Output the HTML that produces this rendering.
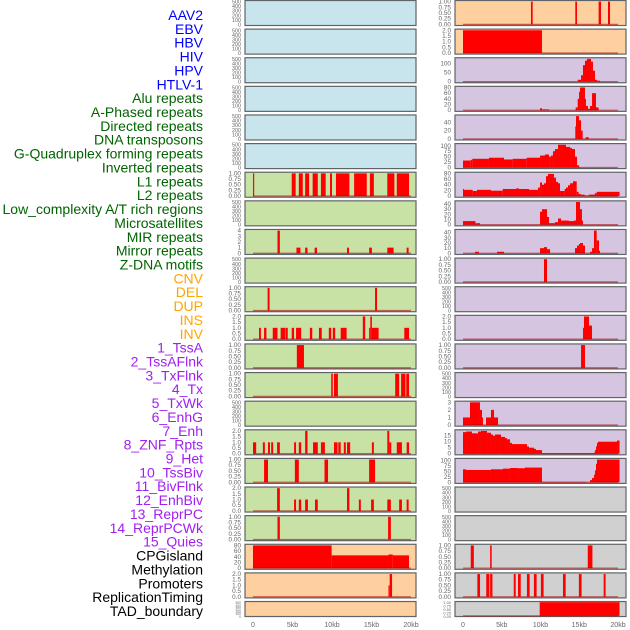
<!DOCTYPE html>
<html><head><meta charset="utf-8"><style>
html,body{margin:0;padding:0;background:#fff;}
svg{display:block;font-family:"Liberation Sans",sans-serif;}
</style></head><body>
<svg id="chart" width="630" height="630" viewBox="0 0 630 630" xmlns="http://www.w3.org/2000/svg"></svg>
<script>
// ---- tick value arrays ----
const T01 = [0,0.25,0.5,0.75,1];
const T02 = [0,0.5,1,1.5,2];
const T04 = [0,1,2,3,4];
const T03 = [0,1,2,3];
const T500 = [0,100,200,300,400,500];
const T80 = [0,20,40,60,80];
const T40 = [0,10,20,30,40];
const T40b = [0,20,40];
const T100 = [0,50,100];
const T100q = [0,25,50,75,100];
const T15 = [0,5,10,15];
const xTicks = [0,5,10,15,20];
const xTickLabels = ["0","5kb","10kb","15kb","20kb"];

// ---- series: [start kb, end kb, value] ----
const aluRepeats = [[0,0.15,1],[4.9,5.4,1],[5.8,6.3,1],[6.6,7.1,1],[7.55,8.2,1],[8.6,9.2,1],[9.75,10,1],[10.5,12.2,1],[12.8,14.4,1],[14.8,15.3,1],[17,17.9,1],[18.2,19.75,1]];
const directedRepeats = [[3.1,3.4,4],[5.5,6.0,1],[6.6,6.9,1],[7.8,8.1,1],[11.9,12.15,1],[14.7,15.05,1],[17,17.8,1],[19.45,19.7,1]];
const gQuadruplex = [[1.85,2.1,1],[15.45,15.7,1]];
const invertedRepeats = [[0.76,1.0,1],[1.4,1.7,1],[2.5,3.1,1],[3.5,4.05,1],[4.1,4.4,1],[4.9,5.2,1],[5.45,6.1,1],[7.2,7.5,1],[8.35,8.7,1],[9.6,9.9,1],[10.1,10.4,1],[11.1,11.85,1],[13.9,14.2,2],[14.7,14.85,1],[14.85,15.05,2],[15.05,15.9,1],[19.15,19.75,1]];
const l1Repeats = [[5.55,6.45,1]];
const l2Repeats = [[9.9,10.1,1],[10.25,10.75,1],[18,18.5,1],[18.75,19.3,1],[19.4,19.75,1]];
const microsatellites = [[0,0.4,1],[1.25,1.5,1],[1.9,2.15,1],[2.3,2.55,1],[3.05,3.4,1],[5.2,5.45,1],[5.8,6.1,1],[6.6,6.9,2],[7.6,8.2,1],[8.6,9.1,1],[10.25,10.7,1],[10.8,11.1,1],[11.5,11.75,1],[11.9,12.3,1],[15.05,15.3,1],[17.0,17.25,2],[17.25,17.5,1],[18.2,18.85,1],[19.45,19.75,1]];
const mirRepeats = [[1.4,1.9,1],[5.3,5.8,1],[9.05,9.5,1],[14.7,15.45,1]];
const mirrorRepeats = [[3.05,3.4,2],[5.2,5.45,1],[5.8,6.1,1],[6.6,6.95,1],[7.85,8.2,1],[11.9,12.2,2],[13.4,13.65,1],[14.95,15.3,1],[17.0,17.45,1],[18.5,18.85,1],[19.45,19.7,1]];
const zDnaMotifs = [[3.1,3.4,1],[17.1,17.45,1]];
const cnv = [[0,9.95,80],[9.95,17.15,45],[17.15,17.7,48],[17.7,19.75,45]];
const del = [[17.15,17.3,1],[17.3,17.6,2]];
const ins = [[8.77,8.99,1],[14.49,14.71,1],[17.5,17.81,1],[18.71,18.97,1]];
const inv = [[0,10.19,2]];
const tssA = [[14.8,15.23,10],[15.23,15.48,35],[15.48,15.74,90],[15.74,16.0,115],[16.0,16.52,125],[16.52,16.77,110],[16.77,17.03,60],[17.03,17.29,10],[17.29,17.68,5]];
const tssAFlnk = [[9.94,10.19,7],[10.19,11.1,3],[14.54,14.8,10],[14.8,14.97,40],[14.97,15.1,65],[15.1,15.74,80],[15.74,15.87,40],[15.87,16.13,15],[16.13,16.39,5],[16.39,16.65,15],[16.65,17.16,60],[17.16,17.5,10]];
const txFlnk = [[14.49,14.58,30],[14.58,14.97,55],[14.97,15.23,45],[15.23,15.44,20],[15.83,16.22,4]];
const tx = [[0,0.99,32],[0.99,1.2,35],[1.2,3.35,40],[3.35,5.29,45],[5.29,6.41,37],[6.41,6.84,40],[6.84,8.22,40],[8.22,9.94,45],[9.94,10.58,55],[10.58,11.1,60],[11.1,11.35,50],[11.35,11.61,55],[11.61,11.87,75],[11.87,12.26,85],[12.26,13.29,105],[13.29,13.81,95],[13.81,14.06,90],[14.06,14.45,85],[14.45,14.71,50],[14.71,14.97,10],[14.97,15.1,2]];
const txWk = [[0,0.13,25],[0.13,1.25,22],[1.25,1.8,18],[1.8,3.61,22],[3.61,5.12,19],[5.12,6.84,25],[6.84,7.23,27],[7.23,8.52,25],[8.52,9.68,22],[9.68,9.94,30],[9.94,10.19,48],[10.19,10.45,40],[10.45,10.71,45],[10.71,10.97,70],[10.97,11.74,78],[11.74,12.0,65],[12.0,12.26,50],[12.26,12.52,45],[12.52,13.12,18],[13.12,13.29,25],[13.29,13.55,30],[13.55,13.81,38],[13.81,14.19,45],[14.19,14.67,52],[14.67,14.92,15],[14.92,15.18,8],[15.18,15.7,5],[15.7,16.22,2],[16.22,16.99,5],[16.99,17.25,10],[17.25,20.2,15]];
const enhG = [[0,1.6,7],[1.6,2.19,3],[9.94,10.19,25],[10.19,10.84,30],[10.84,11.1,15],[11.1,11.87,3],[11.87,12.26,5],[12.26,12.65,12],[12.65,13.68,8],[13.68,14.32,7],[14.32,14.58,8],[14.58,15.1,44],[15.1,15.35,30],[15.35,15.48,8]];
const enh = [[1.55,2.06,3],[4.39,5.29,3],[9.94,10.45,10],[10.45,10.84,12],[10.84,11.23,8],[14.45,14.71,10],[14.71,14.97,15],[14.97,15.1,18],[15.1,15.48,20],[15.48,15.74,15],[16.39,16.65,3],[16.65,16.9,10],[16.9,17.25,44],[17.25,17.55,25],[17.55,17.68,5]];
const znfRpts = [[10.45,10.84,1]];
const tssBiv = [[15.48,15.61,1],[15.61,16.26,2],[16.26,16.65,1.2]];
const bivFlnk = [[15.23,15.74,1]];
const reprPC = [[0,0.9,1],[0.9,2.19,3],[2.19,2.45,2],[2.45,2.58,1],[2.97,3.61,1],[3.61,4.0,2],[4.0,4.52,1]];
const reprPCWk = [[0,0.39,18],[0.39,1.16,18.5],[1.16,1.94,17],[1.94,2.32,18.5],[2.32,3.1,19],[3.1,3.61,17.5],[3.61,3.87,16],[3.87,4.13,15],[4.13,4.9,16],[4.9,5.42,14],[5.42,5.68,13],[5.68,6.06,12],[6.06,6.32,9],[6.32,8.26,8],[8.26,8.52,6],[8.52,9.16,5],[9.16,9.42,4],[9.42,10.19,3],[10.19,16.9,0.5],[16.9,17.03,1],[17.03,17.16,3],[17.16,17.29,6],[17.29,17.42,9],[17.42,19.87,10],[19.87,20.2,11]];
const quies = [[0,0.39,60],[0.39,3.61,57],[3.61,5.16,60],[5.16,6.06,63],[6.06,7.1,66],[7.1,8.0,65],[8.0,10.19,68],[10.19,15.87,2],[16.39,16.65,10],[16.65,16.9,20],[16.9,17.03,35],[17.03,17.16,55],[17.16,17.29,85],[17.29,20.2,105]];
const promoters = [[1.0,1.4,1],[3.5,3.7,1],[16.1,16.7,1]];
const replicationTiming = [[1.85,2.2,1],[3.0,3.4,1],[3.5,3.8,1],[6.55,6.8,1],[7.1,7.45,1],[8.25,8.6,1],[9.15,9.5,1],[10.05,10.4,1],[12.9,13.25,1],[14.95,15.3,1],[18.15,18.4,1]];
const tadBoundary = [[9.9,20.2,1]];

const BLUE="#c8e4ec", GREEN="#c8e1a5", ORANGE="#fecf9f", PURPLE="#d5c5e1", GREY="#d0d0d0";
const LB="#0000ff", LG="#006400", LO="#ffa500", LP="#a020f0", LK="#000000";

const tracks = [
 ["AAV2",LB,0,0,BLUE,T500,null],["EBV",LB,0,1,BLUE,T500,null],["HBV",LB,0,2,BLUE,T500,null],
 ["HIV",LB,0,3,BLUE,T500,null],["HPV",LB,0,4,BLUE,T500,null],["HTLV-1",LB,0,5,BLUE,T500,null],
 ["Alu repeats",LG,0,6,GREEN,T01,aluRepeats],["A-Phased repeats",LG,0,7,GREEN,T500,null],
 ["Directed repeats",LG,0,8,GREEN,T04,directedRepeats],["DNA transposons",LG,0,9,GREEN,T500,null],
 ["G-Quadruplex forming repeats",LG,0,10,GREEN,T01,gQuadruplex],["Inverted repeats",LG,0,11,GREEN,T02,invertedRepeats],
 ["L1 repeats",LG,0,12,GREEN,T01,l1Repeats],["L2 repeats",LG,0,13,GREEN,T01,l2Repeats],
 ["Low_complexity A/T rich regions",LG,0,14,GREEN,T500,null],["Microsatellites",LG,0,15,GREEN,T02,microsatellites],
 ["MIR repeats",LG,0,16,GREEN,T01,mirRepeats],["Mirror repeats",LG,0,17,GREEN,T02,mirrorRepeats],
 ["Z-DNA motifs",LG,0,18,GREEN,T01,zDnaMotifs],
 ["CNV",LO,0,19,ORANGE,T80,cnv],["DEL",LO,0,20,ORANGE,T02,del],["DUP",LO,0,21,ORANGE,T500,null],
 ["INS",LO,1,0,ORANGE,T01,ins],["INV",LO,1,1,ORANGE,T02,inv],
 ["1_TssA",LP,1,2,PURPLE,T100,tssA],["2_TssAFlnk",LP,1,3,PURPLE,T80,tssAFlnk],["3_TxFlnk",LP,1,4,PURPLE,T40b,txFlnk],
 ["4_Tx",LP,1,5,PURPLE,T100q,tx],["5_TxWk",LP,1,6,PURPLE,T80,txWk],["6_EnhG",LP,1,7,PURPLE,T40,enhG],
 ["7_Enh",LP,1,8,PURPLE,T40,enh],["8_ZNF_Rpts",LP,1,9,PURPLE,T01,znfRpts],["9_Het",LP,1,10,PURPLE,T500,null],
 ["10_TssBiv",LP,1,11,PURPLE,T02,tssBiv],["11_BivFlnk",LP,1,12,PURPLE,T01,bivFlnk],["12_EnhBiv",LP,1,13,PURPLE,T500,null],
 ["13_ReprPC",LP,1,14,PURPLE,T03,reprPC],["14_ReprPCWk",LP,1,15,PURPLE,T15,reprPCWk],["15_Quies",LP,1,16,PURPLE,T100q,quies],
 ["CPGisland",LK,1,17,GREY,T500,null],["Methylation",LK,1,18,GREY,T500,null],["Promoters",LK,1,19,GREY,T01,promoters],
 ["ReplicationTiming",LK,1,20,GREY,T01,replicationTiming],["TAD_boundary",LK,1,21,GREY,T01,tadBoundary]
];

const NS="http://www.w3.org/2000/svg";
const svg=document.getElementById("chart");
function mk(tag,attrs,parent){const e=document.createElementNS(NS,tag);for(const k in attrs)e.setAttribute(k,attrs[k]);(parent||svg).appendChild(e);return e;}
const colX=[245,455], colW=171, zeroX=[253,463], pxPerKb=[7.9,7.75];
function xScale(col,kb){return zeroX[col]+kb*pxPerKb[col];}
function rowTop(r){return r*28.62;}
function rowH(r){return r===21?15:25;}
function fmt(t,ticks){const m=ticks[ticks.length-1];if(m===1)return t.toFixed(2);if(m===2)return t.toFixed(1);return String(t);}

tracks.forEach((tr,i)=>{
  const [name,lc,col,row,bg,ticks,data]=tr;
  const lbl=mk("text",{x:203,y:15+i*13.86+5,"text-anchor":"end","font-size":"14",fill:lc});
  lbl.textContent=name;
  
  
  const top=rowTop(row), h=rowH(row), x0=colX[col];
  const g=mk("g",{});
  
  
  const rc=mk("rect",{x:x0,y:top+0.5,width:colW,height:h,fill:bg,stroke:"#5f6468","stroke-width":"1.2"},g);
  
  
  let mx=ticks[ticks.length-1];
  if(data)data.forEach(d=>{if(d[2]>mx)mx=d[2];});
  const yMin=-0.05*mx, yMax=mx*1.05;
  const yS=v=>top+0.5+h-(v-yMin)/(yMax-yMin)*h;
  const fs=Math.min(6.4,h/(ticks.length)*1.3);
  ticks.forEach(t=>{
    const tl=mk("text",{x:x0-4,y:yS(t)+2,"text-anchor":"end","font-size":fs.toFixed(1),fill:"#666"},g);
    tl.textContent=fmt(t,ticks);
    
    
  });
  if(data){
    data.forEach(d=>{
      const xa=xScale(col,d[0]), xb=xScale(col,d[1]);
      const b=mk("rect",{x:xa,y:yS(d[2]),width:Math.max(1,xb-xa),height:yS(0)-yS(d[2]),fill:"#ff0000"},g);
      
      
    });
    const bl=mk("line",{x1:xScale(col,0),x2:xScale(col,20),y1:yS(0),y2:yS(0),stroke:"rgba(170,0,0,0.55)","stroke-width":"1.3"},g);
    
    
  }
});
[0,1].forEach(col=>{
  xTicks.forEach((t,j)=>{
    const xl=mk("text",{x:xScale(col,t),y:627,"text-anchor":"middle","font-size":"7",fill:"#666"});
    xl.textContent=xTickLabels[j];
    
    
  });
});
</script>
</body></html>
